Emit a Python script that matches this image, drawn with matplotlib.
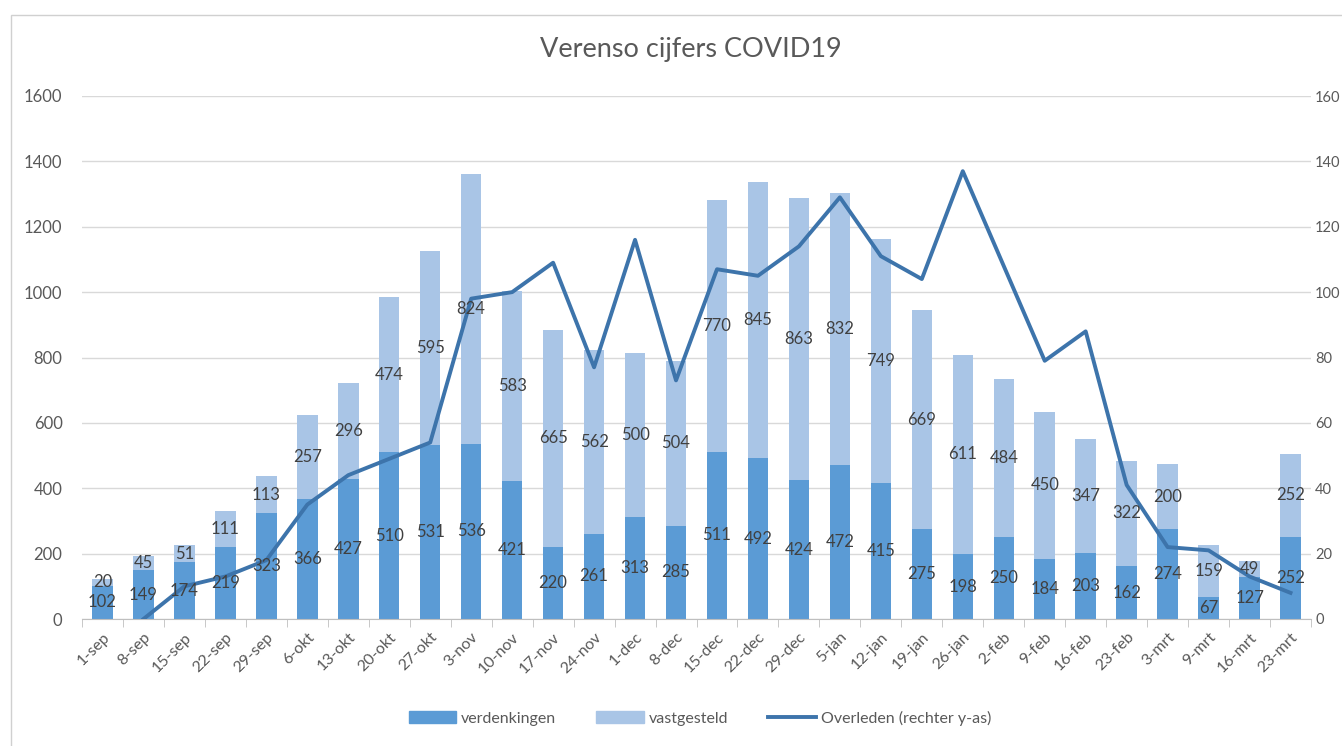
import matplotlib
matplotlib.use("Agg")
import matplotlib.pyplot as plt
from matplotlib.patches import Rectangle
from matplotlib.lines import Line2D
import numpy as np

plt.rcParams['font.family'] = ['Lato', 'DejaVu Sans']

# data
weeks = ["1-sep", "8-sep", "15-sep", "22-sep", "29-sep", "6-okt", "13-okt", "20-okt",
         "27-okt", "3-nov", "10-nov", "17-nov", "24-nov", "1-dec", "8-dec", "15-dec",
         "22-dec", "29-dec", "5-jan", "12-jan", "19-jan", "26-jan", "2-feb", "9-feb",
         "16-feb", "23-feb", "3-mrt", "9-mrt", "16-mrt", "23-mrt"]
verdenkingen = [102, 149, 174, 219, 323, 366, 427, 510, 531, 536, 421, 220, 261, 313, 285,
                511, 492, 424, 472, 415, 275, 198, 250, 184, 203, 162, 274, 67, 127, 252]
vastgesteld = [20, 45, 51, 111, 113, 257, 296, 474, 595, 824, 583, 665, 562, 500, 504,
               770, 845, 863, 832, 749, 669, 611, 484, 450, 347, 322, 200, 159, 49, 252]
overleden = [np.nan, 0, 10, 13, 18, 35, 44, 49, 54, 98, 100, 109, 77, 116, 73,
             107, 105, 114, 129, 111, 104, 137, 108, 79, 88, 41, 22, 21, 13, 8]

dark = '#5B9BD5'
light = '#A9C5E6'
line_col = '#3D74AB'
txt = '#404040'
axis_txt = '#595959'

W, H = 1342, 746
fig = plt.figure(figsize=(W / 100, H / 100), dpi=100)
fig.patch.set_facecolor('white')

# chart border (cut off at right and bottom like the screenshot)
fig.patches.append(Rectangle((11 / W, -0.1), 1.2, 1 - 15 / H + 0.1,
                             transform=fig.transFigure, fill=False,
                             edgecolor='#D0D0D0', linewidth=1))

ax = fig.add_axes([82 / W, 1 - 619 / H, (1311 - 82) / W, (619 - 96) / H])
x = np.arange(len(weeks))
bw = 0.5
ax.bar(x, verdenkingen, bw, color=dark, zorder=2)
ax.bar(x, vastgesteld, bw, bottom=verdenkingen, color=light, zorder=2)

ax.set_xlim(-0.5, len(weeks) - 0.5)
ax.set_ylim(0, 1600)
ax.set_yticks(range(0, 1601, 200))
ax.grid(axis='y', color='#D9D9D9', linewidth=1, zorder=0)
for s in ['top', 'left', 'right']:
    ax.spines[s].set_visible(False)
ax.spines['bottom'].set_color('#BFBFBF')
ax.tick_params(axis='y', length=0, pad=14, labelsize=12, labelcolor=axis_txt)
ax.set_xticks(x)
ax.set_xticklabels(weeks, rotation=45, ha='right', rotation_mode='anchor',
                   fontsize=11.5, color=axis_txt)
ax.tick_params(axis='x', which='major', length=0, pad=8)
ax.set_xticks(np.arange(-0.5, len(weeks), 1), minor=True)
ax.tick_params(axis='x', which='minor', length=6, color='#BFBFBF')

ax2 = ax.twinx()
ax2.set_ylim(0, 160)
ax2.set_yticks(range(0, 161, 20))
ax2.tick_params(axis='y', length=0, pad=3, labelsize=10.5, labelcolor=axis_txt)
for s in ax2.spines.values():
    s.set_visible(False)
ax2.plot(x, overleden, color=line_col, linewidth=2.8, zorder=3)

# data labels, centred in each segment, drawn above the line
for i in range(len(weeks)):
    v, f = verdenkingen[i], vastgesteld[i]
    ax2.text(i, v / 2, str(v), transform=ax.transData, ha='center', va='center',
             fontsize=12, color=txt, zorder=5)
    ax2.text(i, v + f / 2, str(f), transform=ax.transData, ha='center', va='center',
             fontsize=12, color=txt, zorder=5)

fig.text(691 / W, 1 - 50 / H, 'Verenso cijfers COVID19', ha='center', va='center',
         fontsize=19.5, color=axis_txt)

handles = [Rectangle((0, 0), 1, 1, color=dark), Rectangle((0, 0), 1, 1, color=light),
           Line2D([0], [0], color=line_col, linewidth=2.8)]
fig.legend(handles, ['verdenkingen', 'vastgesteld', 'Overleden (rechter y-as)'],
           loc='center', bbox_to_anchor=(700 / W, 1 - 718 / H), ncol=3, frameon=False,
           fontsize=11.5, labelcolor=axis_txt, handlelength=3, handleheight=0.7,
           columnspacing=2.5, handletextpad=0.3)

fig.savefig('out.png', dpi=100)
